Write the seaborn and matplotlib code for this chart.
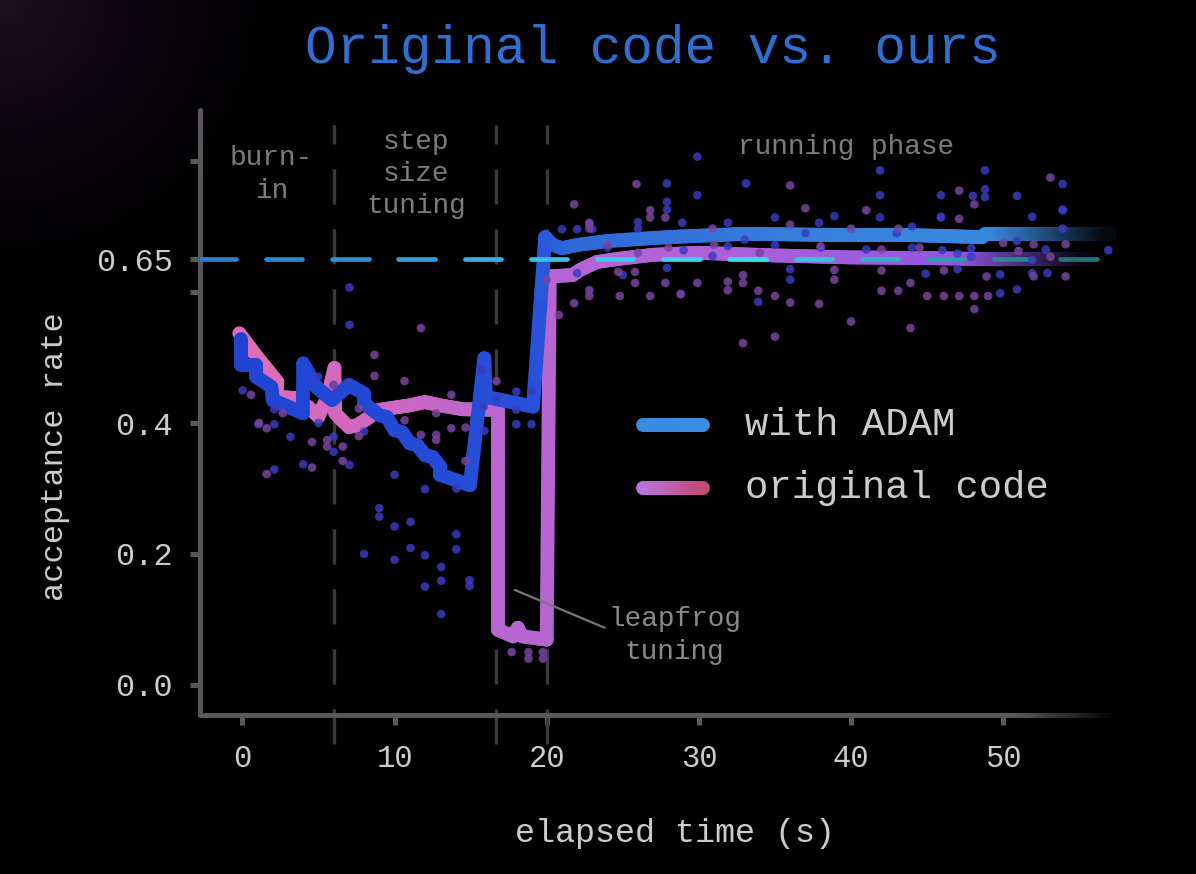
import numpy as np
import pandas as pd
import matplotlib
matplotlib.use("Agg")
import matplotlib.pyplot as plt
import seaborn as sns
from matplotlib.collections import LineCollection
from matplotlib.colors import LinearSegmentedColormap

# ---- data ----
adam_t = [-0.1, -0.1, 0.9, 0.9, 1.9, 2.0, 3.97, 4.0, 4.0, 4.85, 5.9, 7.0, 7.0, 8.0, 8.0,
          9.0, 9.5, 10.0, 10.5, 11.0, 11.5, 12.0, 12.5, 13.0, 13.0, 14.95, 15.9, 16.0,
          19.1, 19.9, 20.4, 21.0, 22.0, 24.0, 26.6, 28.0, 33.0, 40.0, 44.0, 48.6, 48.8, 57.0]
adam_rate = [0.529, 0.489, 0.489, 0.471, 0.455, 0.435, 0.415, 0.491, 0.491, 0.455, 0.435,
             0.458, 0.458, 0.445, 0.430, 0.412, 0.409, 0.389, 0.386, 0.369, 0.366, 0.351,
             0.348, 0.333, 0.321, 0.305, 0.499, 0.440, 0.425, 0.684, 0.672, 0.667, 0.672,
             0.678, 0.682, 0.684, 0.689, 0.687, 0.687, 0.684, 0.688, 0.688]

orig_t = [-0.2, 1.0, 2.3, 2.3, 3.5, 4.3, 5.0, 5.6, 6.05, 6.1, 6.5, 7.0, 7.5, 8.1, 9.0,
          11.0, 12.0, 13.0, 14.5, 16.8, 16.8, 17.4, 17.8, 18.1, 18.4, 20.0, 20.2, 21.7,
          22.2, 23.3, 24.8, 27.0, 30.0, 35.0, 40.0, 45.0, 50.0, 55.7]
orig_rate = [0.537, 0.50, 0.463, 0.440, 0.438, 0.425, 0.410, 0.440, 0.484, 0.415, 0.405,
             0.394, 0.396, 0.405, 0.420, 0.427, 0.432, 0.427, 0.421, 0.420, 0.084, 0.078,
             0.074, 0.087, 0.074, 0.069, 0.624, 0.626, 0.634, 0.646, 0.651, 0.657, 0.660,
             0.656, 0.653, 0.652, 0.650, 0.650]

adam_dot_t = [0.02, 1.05, 2.1, 2.1, 3.16, 4.98, 5.0, 6.0, 6.0, 4.0, 2.1, 7.04, 6.0, 8.0,
              7.04, 7.04, 10.0, 12.0, 14.06, 9.0, 9.0, 10.0, 11.05, 14.06, 8.0, 10.0, 11.05,
              12.0, 14.06, 13.07, 13.07, 14.93, 14.93, 12.0, 13.07, 15.7, 15.86, 15.9, 18.0,
              18.0, 18.0, 19.0, 19.0, 16.7,
              21.0, 22.0, 23.0, 22.0, 29.9, 41.9, 27.9, 33.1, 48.8, 53.9, 29.9, 41.9, 45.9,
              48.0, 48.8, 48.8, 50.9, 27.9, 27.9, 26.0, 26.0, 28.9, 35.0, 38.9, 41.9, 45.9,
              51.9, 53.9, 31.9, 37.9, 44.0, 53.9, 53.9, 25.0, 27.9, 36.0, 36.0, 44.9, 47.0,
              49.8, 51.9, 52.9, 28.8, 33.9, 49.8, 50.9, 56.9, 31.9, 35.0, 38.0, 41.0, 44.0,
              46.0, 47.9, 50.9, 52.8, 24.0, 29.0, 33.0, 37.0, 43.0, 47.0, 47.9, 30.9, 51.9,
              45.9]
adam_dot_rate = [0.450, 0.398, 0.398, 0.421, 0.379, 0.471, 0.400, 0.379, 0.356, 0.337,
                 0.329, 0.336, 0.458, 0.387, 0.550, 0.607, 0.321, 0.299, 0.300, 0.270,
                 0.257, 0.242, 0.249, 0.230, 0.200, 0.191, 0.209, 0.198, 0.207, 0.180,
                 0.159, 0.160, 0.151, 0.150, 0.108, 0.481, 0.425, 0.388, 0.448, 0.420,
                 0.398, 0.398, 0.448, 0.435,
                 0.696, 0.696, 0.696, 0.629, 0.807, 0.786, 0.766, 0.766, 0.786, 0.765,
                 0.748, 0.748, 0.748, 0.747, 0.757, 0.745, 0.747, 0.738, 0.726, 0.707,
                 0.697, 0.706, 0.714, 0.716, 0.714, 0.714, 0.715, 0.726, 0.706, 0.706,
                 0.700, 0.697, 0.725, 0.626, 0.637, 0.635, 0.619, 0.628, 0.635, 0.627,
                 0.629, 0.629, 0.597, 0.585, 0.598, 0.604, 0.664, 0.670, 0.672, 0.668,
                 0.665, 0.668, 0.664, 0.667, 0.678, 0.665, 0.668, 0.664, 0.680, 0.690,
                 0.690, 0.659, 0.654, 0.655, 0.649, 0.715]

orig_dot_t = [0.57, 1.6, 1.6, 2.65, 4.58, 4.58, 5.57, 5.57, 6.6, 6.6, 8.68, 8.68, 7.65,
              7.65, 10.66, 10.66, 11.73, 11.73, 12.74, 12.74, 12.74, 13.73, 13.73, 14.67,
              14.67, 16.7, 5.97, 1.1,
              17.7, 18.8, 18.8, 19.75, 19.75,
              20.8, 21.8, 21.8, 22.8, 22.8, 22.8, 20.0,
              25.9, 36.0, 53.1, 47.1, 48.1, 26.8, 26.8, 27.8, 37.0, 41.0, 47.1, 30.9, 36.0,
              40.0, 43.1, 22.8, 22.8, 24.7, 25.8, 32.9, 32.9, 38.9, 38.9, 42.0, 46.1, 48.9,
              52.0, 54.1, 25.8, 27.8, 29.9, 31.9, 31.9, 43.9, 24.8, 26.8, 28.8, 33.9, 35.0,
              36.0, 37.9, 42.0, 43.1, 45.0, 46.1, 47.1, 48.1, 49.0, 48.1, 40.0, 43.9, 32.9,
              35.0, 50.0, 52.0, 54.1, 51.0, 53.1, 24.0, 26.0, 28.0, 31.0, 34.0, 38.0, 42.0,
              44.5]
orig_dot_rate = [0.443, 0.392, 0.322, 0.415, 0.371, 0.332, 0.374, 0.364, 0.364, 0.342,
                 0.504, 0.472, 0.422, 0.380, 0.464, 0.404, 0.545, 0.382, 0.415, 0.382,
                 0.374, 0.443, 0.392, 0.393, 0.342, 0.464, 0.458, 0.400,
                 0.050, 0.050, 0.040, 0.050, 0.040,
                 0.565, 0.583, 0.734, 0.706, 0.603, 0.594, 0.618,
                 0.765, 0.763, 0.775, 0.755, 0.734, 0.725, 0.714, 0.714, 0.728, 0.725,
                 0.712, 0.697, 0.703, 0.697, 0.697, 0.704, 0.697, 0.631, 0.631, 0.626,
                 0.614, 0.634, 0.619, 0.633, 0.633, 0.624, 0.624, 0.624, 0.614, 0.614,
                 0.614, 0.616, 0.603, 0.614, 0.594, 0.594, 0.597, 0.602, 0.594, 0.584,
                 0.582, 0.602, 0.602, 0.594, 0.594, 0.594, 0.594, 0.594, 0.574, 0.555,
                 0.545, 0.522, 0.532, 0.675, 0.673, 0.673, 0.663, 0.654, 0.672, 0.660,
                 0.668, 0.672, 0.660, 0.670, 0.665, 0.668]

phase_edges = [6.0, 16.7, 20.0]
target_rate = 0.65
y_ticks = [0.0, 0.2, 0.4, 0.6, 0.65, 0.8]
y_tick_labels = ["0.0", "0.2", "0.4", "", "0.65", ""]
x_ticks = [0, 10, 20, 30, 40, 50]

# ---- style ----
sns.set_style("dark", rc={"axes.facecolor": "black", "figure.facecolor": "black"})
plt.rcParams["font.family"] = ["Liberation Mono", "DejaVu Sans Mono"]

FONT = ["Liberation Mono", "DejaVu Sans Mono"]
GRAY_TXT = "#7c7c7c"
LIGHT_TXT = "#cccccc"
AXIS_GRAY = "#585858"


def gradient_line(ax, x, y, stops, lw, fade=None, z=3, step=0.2, **kw):
    """Thick line coloured by x position, optionally fading into the black background."""
    xs, ys = [x[0]], [y[0]]
    for i in range(1, len(x)):
        n = max(1, int(abs(x[i] - x[i - 1]) / step))
        xs.extend(np.linspace(x[i - 1], x[i], n + 1)[1:])
        ys.extend(np.linspace(y[i - 1], y[i], n + 1)[1:])
    xs, ys = np.array(xs), np.array(ys)
    pts = np.column_stack([xs, ys]).reshape(-1, 1, 2)
    segs = np.concatenate([pts[:-1], pts[1:]], axis=1)
    mid = (xs[:-1] + xs[1:]) / 2
    lo, hi = stops[0][0], stops[-1][0]
    cmap = LinearSegmentedColormap.from_list(
        "g", [((p - lo) / (hi - lo), c) for p, c in stops])
    cols = cmap(np.clip((mid - lo) / (hi - lo), 0, 1))
    if fade is not None:
        a = np.clip((fade[1] - mid) / (fade[1] - fade[0]), 0, 1)
        cols[:, :3] *= a[:, None]
    lc = LineCollection(segs, colors=cols, linewidths=lw, zorder=z, **kw)
    lc.set_capstyle("round")
    lc.set_joinstyle("round")
    ax.add_collection(lc)
    return lc


fig = plt.figure(figsize=(11.96, 8.74), dpi=100)

# faint glow in the upper-left corner of the backdrop
bg = fig.add_axes([0, 0, 1, 1], zorder=-5)
gx, gy = np.meshgrid(np.linspace(0, 1, 240), np.linspace(0, 1, 175))
glow = np.clip(1 - np.hypot(gx, gy * 0.75) / 0.3, 0, 1) ** 2
bg.imshow(glow, cmap=LinearSegmentedColormap.from_list("bg", ["#000000", "#1e1022"]),
          extent=[0, 1, 0, 1], aspect="auto", vmin=0, vmax=1)
bg.set_axis_off()

ax = fig.add_axes([0.167, 0.182, 0.766, 0.692])
ax.set_facecolor("none")
ax.set_xlim(-2.8, 57.4)
ax.set_ylim(-0.046, 0.878)

# phase boundaries
for xe in phase_edges:
    ax.plot([xe, xe], [-0.09, 0.855], color="#3a3a3a", lw=2.4,
            dashes=(10.5, 7.5), zorder=1, clip_on=False)

# lines
blue_stops = [(-1, "#2142d2"), (19, "#2750d8"), (22, "#2e68d8"), (40, "#3882dc"), (58, "#3a8ee2")]
pink_stops = [(-1, "#e070b4"), (6, "#d468bc"), (12, "#c868c6"), (17, "#b866d0"),
              (30, "#b062d8"), (44, "#9a58e0"), (58, "#7a4ce0")]
gradient_line(ax, orig_t, orig_rate, pink_stops, lw=10, fade=(47.5, 56.0), z=3)
gradient_line(ax, adam_t, adam_rate, blue_stops, lw=10, fade=(49.5, 57.5), z=4)

# target acceptance rate, dashed
period, dash = 4.35, 2.4
starts = np.arange(-2.8, 54.5, period)
dsegs = [[(s, target_rate), (s + dash, target_rate)] for s in starts]
dcmap = LinearSegmentedColormap.from_list(
    "d", ["#2a7ccc", "#2f94d6", "#36c4ea", "#3cdcf2", "#2aa8b8", "#1c6e70"])
dcols = dcmap(np.clip((starts + dash / 2 + 2.8) / 59, 0, 1))
dlc = LineCollection(dsegs, colors=dcols, linewidths=3.4, zorder=6)
dlc.set_capstyle("round")
ax.add_collection(dlc)

# individual samples
dots = pd.concat([
    pd.DataFrame({"t": adam_dot_t, "rate": adam_dot_rate, "series": "with ADAM"}),
    pd.DataFrame({"t": orig_dot_t, "rate": orig_dot_rate, "series": "original code"}),
])
sns.scatterplot(data=dots, x="t", y="rate", hue="series",
                palette={"with ADAM": "#3a3cc0", "original code": "#7a44a0"},
                s=38, linewidth=0, alpha=0.85, legend=False, zorder=7, ax=ax)

# axes
for side in ["top", "right", "bottom"]:
    ax.spines[side].set_visible(False)
ax.spines["left"].set_color(AXIS_GRAY)
ax.spines["left"].set_linewidth(3.6)
ax.spines["left"].set_capstyle("round")
gradient_line(ax, [-2.8, 57.5], [-0.046, -0.046], [(-3, AXIS_GRAY), (58, AXIS_GRAY)],
              lw=3.6, fade=(51.0, 57.5), z=2, step=0.3, clip_on=False)

ax.set_yticks(y_ticks)
ax.set_yticklabels(y_tick_labels)
ax.set_xticks(x_ticks)
ax.tick_params(axis="y", colors=AXIS_GRAY, labelcolor=LIGHT_TXT, labelsize=23,
               length=7, width=3.6, pad=12, left=True)
ax.tick_params(axis="x", colors=AXIS_GRAY, labelcolor=LIGHT_TXT, labelsize=22,
               length=7, width=3.6, pad=14, bottom=True)
ax.grid(False)
ax.set_xlabel("")
ax.set_ylabel("")

# phase labels
ax.text(1.9, 0.78, "burn-\nin", ha="center", va="center", fontsize=20,
        color=GRAY_TXT, family=FONT, linespacing=1.35)
ax.text(11.4, 0.78, "step\nsize\ntuning", ha="center", va="center", fontsize=20,
        color=GRAY_TXT, family=FONT, linespacing=1.3)
ax.text(39.7, 0.821, "running phase", ha="center", va="center", fontsize=20,
        color=GRAY_TXT, family=FONT)
ax.annotate("leapfrog\ntuning", xy=(17.9, 0.145), xytext=(28.4, 0.076),
            ha="center", va="center", fontsize=20, color="#8a8a8a", family=FONT,
            linespacing=1.35,
            arrowprops=dict(arrowstyle="-", color="#777777", lw=1.6,
                            shrinkA=0, shrinkB=0, relpos=(0.0, 0.6)))

# legend drawn by hand (gradient swatch)
gradient_line(ax, [26.3, 30.3], [0.397, 0.397], [(26, "#3a8ae0"), (31, "#3a8ee4")],
              lw=10, z=8, step=0.1)
gradient_line(ax, [26.3, 30.3], [0.301, 0.301],
              [(26.3, "#b876e4"), (28.5, "#c062b0"), (30.3, "#c04a7c")],
              lw=10, z=8, step=0.1)
ax.text(33.0, 0.397, "with ADAM", ha="left", va="center", fontsize=28,
        color=LIGHT_TXT, family=FONT)
ax.text(33.0, 0.301, "original code", ha="left", va="center", fontsize=28,
        color=LIGHT_TXT, family=FONT)

# titles
fig.text(0.546, 0.944, "Original code vs. ours", ha="center", va="center",
         fontsize=38, color="#2f6fd4", family=FONT)
fig.text(0.564, 0.046, "elapsed time (s)", ha="center", va="center",
         fontsize=24, color=LIGHT_TXT, family=FONT)
fig.text(0.046, 0.477, "acceptance rate", ha="center", va="center", rotation=90,
         fontsize=23, color=LIGHT_TXT, family=FONT)

fig.savefig("out.png", dpi=100, facecolor="black")
plt.close(fig)
